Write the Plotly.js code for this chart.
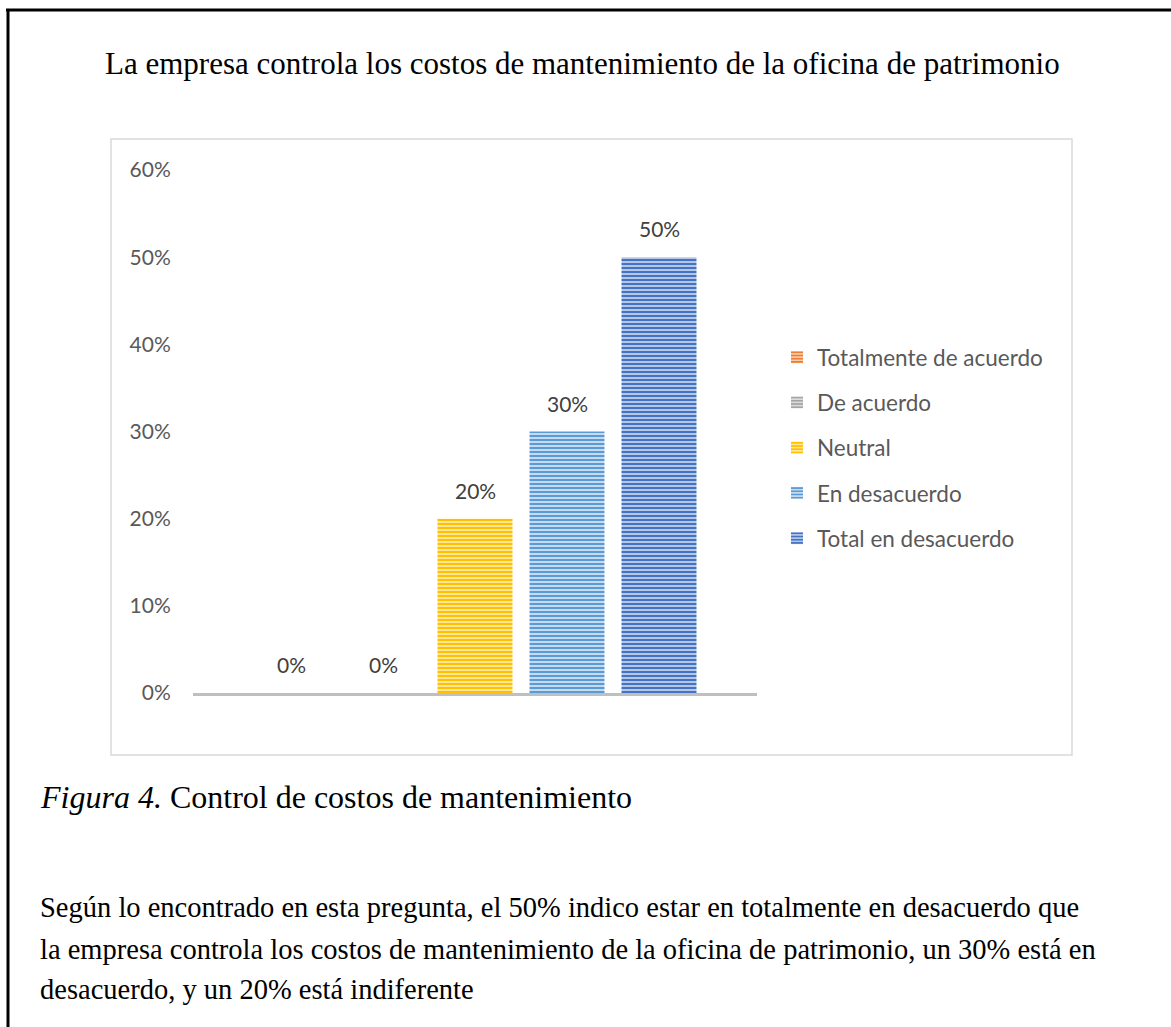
<!DOCTYPE html>
<html>
<head>
<meta charset="utf-8">
<script src="https://cdn.plot.ly/plotly-3.0.1.min.js"></script>
<style>html,body{margin:0;padding:0;background:#fff;}#chart{width:1171px;height:1027px;}</style>
</head>
<body>
<div id="chart"></div>
<script>
// ---- data ----
var categories = ["Totalmente de acuerdo", "De acuerdo", "Neutral", "En desacuerdo", "Total en desacuerdo"];
var values = [0, 0, 0.20, 0.30, 0.50];
var labels = ["0%", "0%", "20%", "30%", "50%"];
var yTickVals = [0, 0.1, 0.2, 0.3, 0.4, 0.5, 0.6];
var yTickText = ["0%", "10%", "20%", "30%", "40%", "50%", "60%"];
var chartTitle = "La empresa controla los costos de mantenimiento de la oficina de patrimonio";
var captionText = "<i>Figura 4.</i> Control de costos de mantenimiento";
var paragraphLines = [
  "Según lo encontrado en esta pregunta, el 50% indico estar en totalmente en desacuerdo que",
  "la empresa controla los costos de mantenimiento de la oficina de patrimonio, un 30% está en",
  "desacuerdo, y un 20% está indiferente"
];

// ---- styles ----
var fgColors = ["#ED7D31", "#A5A5A5", "#FFC000", "#5B9BD5", "#4472C4"];
var bgColors = ["#F8CBAD", "#DBDBDB", "#FFE699", "#C6DBEF", "#B4C7E7"];

var W = 1171, H = 1027;
var L = 193, R = 757, T = 170, B = 693;
function px(x) { return (x - L) / (R - L); }
function py(y) { return (B - y) / (B - T); }

var traces = categories.map(function (c, i) {
  return {
    type: 'bar',
    name: c,
    x: [i],
    y: [values[i]],
    width: 0.815,
    legendgroup: 'g' + i,
    marker: {
      color: fgColors[i],
      line: {width: 0},
      pattern: {shape: '-', size: 4, solidity: 0.5, fgcolor: fgColors[i], bgcolor: bgColors[i]}
    },
    hoverinfo: 'skip'
  };
});

var serif = "Liberation Serif, Times New Roman, serif";
var sans = "Lato, Open Sans, sans-serif";

var annotations = [];
categories.forEach(function (c, i) {
  annotations.push({
    x: i, y: values[i], xref: 'x', yref: 'y',
    text: labels[i], showarrow: false,
    xanchor: 'center', yanchor: 'bottom', yshift: 14,
    font: {family: sans, size: 21, color: '#404040'}
  });
});
annotations.push({
  x: px(582), y: py(63), xref: 'paper', yref: 'paper',
  text: chartTitle, showarrow: false, xanchor: 'center', yanchor: 'middle',
  font: {family: serif, size: 31, color: '#000'}
});
annotations.push({
  x: px(38), y: py(797), xref: 'paper', yref: 'paper',
  text: captionText, showarrow: false, xanchor: 'left', yanchor: 'middle',
  font: {family: serif, size: 32, color: '#000'}
});
var lineY = [907, 949, 990];
paragraphLines.forEach(function (t, i) {
  annotations.push({
    x: px(38), y: py(lineY[i]), xref: 'paper', yref: 'paper',
    text: t, showarrow: false, xanchor: 'left', yanchor: 'middle',
    font: {family: serif, size: 28.5, color: '#000'}
  });
});

var layout = {
  width: W, height: H,
  margin: {l: L, r: W - R, t: T, b: H - B, pad: 0},
  paper_bgcolor: '#fff', plot_bgcolor: 'rgba(0,0,0,0)',
  showlegend: true,
  barmode: 'overlay',
  xaxis: {
    range: [(L - 291) / 92, (R - 291) / 92],
    showgrid: false, zeroline: false, showticklabels: false,
    showline: true, linecolor: '#BFBFBF', linewidth: 3, ticks: '', fixedrange: true
  },
  yaxis: {
    range: [0, 0.6], tickvals: yTickVals, ticktext: yTickText,
    showgrid: false, zeroline: false, showline: false,
    ticks: 'outside', ticklen: 17, tickcolor: 'rgba(0,0,0,0)',
    tickfont: {family: sans, size: 21, color: '#595959'}, fixedrange: true
  },
  legend: {
    x: px(777), y: py(336), xanchor: 'left', yanchor: 'top',
    font: {family: sans, size: 22.5, color: '#595959'},
    tracegroupgap: 13, bgcolor: 'rgba(0,0,0,0)'
  },
  annotations: annotations,
  shapes: [
    {type: 'rect', xref: 'paper', yref: 'paper', x0: px(111), x1: px(1072), y0: py(139), y1: py(755),
     line: {color: '#D9D9D9', width: 1.5}, fillcolor: 'rgba(0,0,0,0)', layer: 'below'},
    {type: 'line', xref: 'paper', yref: 'paper', x0: px(6), x1: px(1175), y0: py(10), y1: py(10),
     line: {color: '#000', width: 3}},
    {type: 'line', xref: 'paper', yref: 'paper', x0: px(8), x1: px(8), y0: py(9), y1: py(1030),
     line: {color: '#000', width: 3}}
  ]
};

Plotly.newPlot('chart', traces, layout, {displayModeBar: false, staticPlot: true});
</script>
</body>
</html>
